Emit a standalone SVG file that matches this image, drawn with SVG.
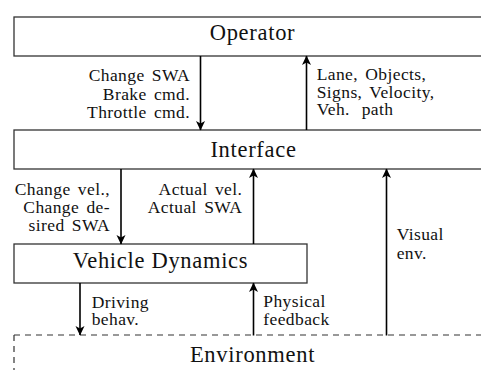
<svg xmlns="http://www.w3.org/2000/svg" width="481" height="370" viewBox="0 0 481 370">
<style>
.box{fill:#fff;stroke:#333;stroke-width:1.3}
.t{fill:#111;font-family:'Liberation Serif','Times New Roman',serif}
.big{font-size:22.5px;letter-spacing:0.7px}
.lab{font-size:17.5px;letter-spacing:0.4px;word-spacing:2.5px}
.e{text-anchor:end}
.m{text-anchor:middle}
.c{stroke:#000;stroke-width:1.6;fill:none;marker-end:url(#ah)}
.dash{stroke:#333;stroke-width:1.2;stroke-dasharray:6 5;fill:none}
</style>
<defs>
<marker id="ah" markerUnits="userSpaceOnUse" markerWidth="12" markerHeight="12" viewBox="-10 -6 12 12" refX="0" refY="0" orient="auto">
<path d="M0.5,0 L-9,-4.5 L-6.5,0 L-9,4.5 Z" fill="#000"/>
</marker>
</defs>
<rect width="481" height="370" fill="#fff"/>
<g id="operator">
<rect class="box" x="14" y="17" width="480" height="39"/>
<text class="t big m" x="252.5" y="40">Operator</text>
</g>
<g id="interface">
<rect class="box" x="14" y="130" width="480" height="39"/>
<text class="t big m" x="253.5" y="157.3">Interface</text>
</g>
<g id="vehicle-dynamics">
<rect class="box" x="14" y="244" width="293" height="39"/>
<text class="t big m" x="160.5" y="268.3">Vehicle Dynamics</text>
</g>
<g id="environment">
<line class="dash" x1="14" y1="335" x2="481" y2="335"/>
<line class="dash" x1="14" y1="335" x2="14" y2="370"/>
<text class="t big m" x="252.5" y="361.7">Environment</text>
</g>
<g id="connectors">
<line class="c" x1="200.5" y1="56" x2="200.5" y2="130"/>
<line class="c" x1="306.5" y1="130" x2="306.5" y2="56"/>
<line class="c" x1="121" y1="169" x2="121" y2="244"/>
<line class="c" x1="253.5" y1="244" x2="253.5" y2="169"/>
<line class="c" x1="386.5" y1="335.5" x2="386.5" y2="169"/>
<line class="c" x1="80" y1="283" x2="80" y2="335"/>
<line class="c" x1="253.5" y1="335.5" x2="253.5" y2="283"/>
</g>
<g id="labels">
<text class="t lab e" x="190" y="81">Change SWA</text>
<text class="t lab e" x="190" y="99.5">Brake cmd.</text>
<text class="t lab e" x="190" y="117.5">Throttle cmd.</text>
<text class="t lab" x="316.7" y="80">Lane, Objects,</text>
<text class="t lab" x="316.7" y="97.5">Signs, Velocity,</text>
<text class="t lab" x="316.7" y="115" style="word-spacing:7px">Veh. path</text>
<text class="t lab e" x="110" y="195">Change vel.,</text>
<text class="t lab e" x="110" y="213">Change de-</text>
<text class="t lab e" x="110" y="230.7">sired SWA</text>
<text class="t lab e" x="242.3" y="195">Actual vel.</text>
<text class="t lab e" x="242.3" y="213">Actual SWA</text>
<text class="t lab" x="396.7" y="240">Visual</text>
<text class="t lab" x="396.7" y="258.5">env.</text>
<text class="t lab" x="91.7" y="308">Driving</text>
<text class="t lab" x="91.7" y="325">behav.</text>
<text class="t lab" x="263.3" y="306.7">Physical</text>
<text class="t lab" x="263.3" y="325">feedback</text>
</g>
</svg>
